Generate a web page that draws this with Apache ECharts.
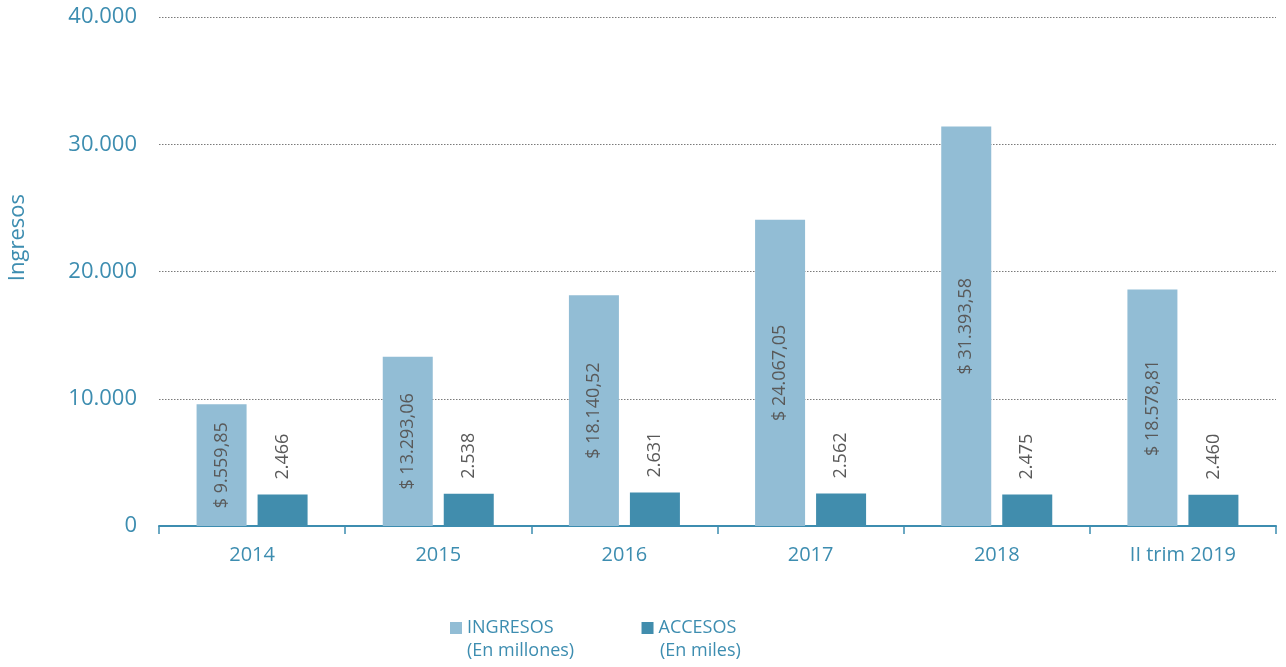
<!DOCTYPE html>
<html>
<head>
<meta charset="utf-8">
<script src="https://cdn.jsdelivr.net/npm/echarts@6/dist/echarts.min.js"></script>
<style>
  html, body { margin: 0; padding: 0; background: #fff; }
  #chart { width: 1286px; height: 667px; }
</style>
</head>
<body>
<div id="chart"></div>
<script>
// datos del gráfico
const categorias = ['2014', '2015', '2016', '2017', '2018', 'II trim 2019']
const ingresos = [9559.85, 13293.06, 18140.52, 24067.05, 31393.58, 18578.81]
const accesos = [2466, 2538, 2631, 2562, 2475, 2460]
const ticksY = [0, 10000, 20000, 30000, 40000]

const teal = '#3d8db0'
const fuente = 'Open Sans'

// formato con punto de miles y coma decimal
function formato(v, dec) {
    const partes = v.toFixed(dec).split('.')
    const entero = partes[0].replace(/\B(?=(\d{3})+(?!\d))/g, '.')
    return partes.length > 1 ? entero + ',' + partes[1] : entero
}

const chart = echarts.init(document.getElementById('chart'))

const options = {
    backgroundColor: '#fff',
    textStyle: { fontFamily: fuente },
    animation: false,
    grid: { left: 159, right: 10, top: 17, bottom: 141 },
    legend: {
        left: 445,
        top: 614,
        icon: 'rect',
        itemWidth: 12,
        itemHeight: 12,
        itemGap: 88,
        textStyle: { color: teal, fontSize: 18, fontFamily: fuente },
        data: ['INGRESOS', 'ACCESOS']
    },
    // segunda línea de la leyenda y título del eje
    graphic: [
        { type: 'text', left: 467, top: 642, style: { text: '(En millones)', fill: teal, font: '18px "Open Sans"' } },
        { type: 'text', left: 660, top: 642, style: { text: '(En miles)', fill: teal, font: '18px "Open Sans"' } },
        { type: 'text', left: 7, top: 194, rotation: Math.PI / 2, style: { text: 'Ingresos', fill: teal, font: '22px "Open Sans"' } }
    ],
    xAxis: {
        type: 'category',
        data: categorias,
        axisLine: { lineStyle: { color: teal, width: 2 } },
        axisTick: { show: true, length: 8, lineStyle: { color: teal, width: 1.5 } },
        axisLabel: { color: teal, fontSize: 20, margin: 19, fontFamily: fuente }
    },
    yAxis: {
        type: 'value',
        min: ticksY[0],
        max: ticksY[ticksY.length - 1],
        interval: 10000,
        axisLine: { show: false },
        axisTick: { show: false },
        axisLabel: {
            color: teal, fontSize: 22, margin: 22, fontFamily: fuente,
            formatter: v => formato(v, 0)
        },
        splitLine: { lineStyle: { color: '#7a7a7a', type: [1.5, 1.5], width: 1 } }
    },
    series: [
        {
            name: 'INGRESOS',
            type: 'bar',
            data: ingresos,
            barWidth: 50,
            barGap: '22%',
            itemStyle: { color: '#92bdd5' },
            label: {
                show: true,
                position: 'inside',
                rotate: 90,
                color: '#595959',
                fontSize: 18,
                fontFamily: fuente,
                formatter: p => '$ ' + formato(p.value, 2)
            }
        },
        {
            name: 'ACCESOS',
            type: 'bar',
            data: accesos,
            barWidth: 50,
            itemStyle: { color: '#418dad' },
            label: {
                show: true,
                position: 'top',
                distance: 15,
                rotate: 90,
                align: 'left',
                verticalAlign: 'middle',
                color: '#595959',
                fontSize: 18,
                fontFamily: fuente,
                formatter: p => formato(p.value, 0)
            }
        }
    ]
}

chart.setOption(options)
</script>
</body>
</html>
